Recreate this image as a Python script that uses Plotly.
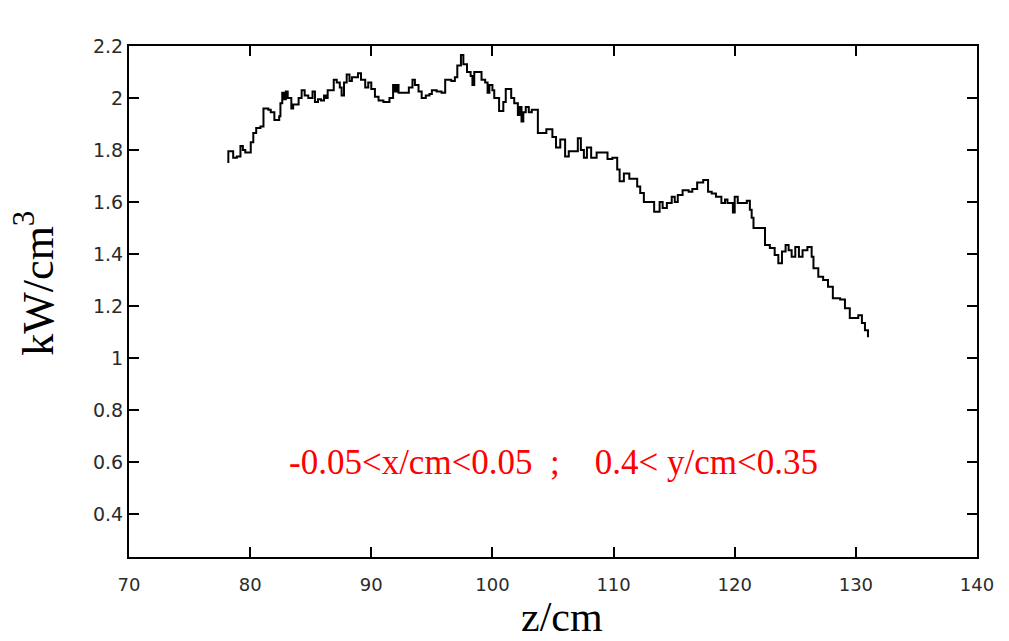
import plotly.graph_objects as go

# Axial position z (cm) where each step of the profile begins
z_cm = [
    78.2, 78.2, 78.6, 78.9, 79.2, 79.4, 79.6, 80.05, 80.26, 80.5, 80.85,
    81.1, 81.5, 81.7, 82.0, 82.4, 82.5, 82.65, 82.8, 82.95, 83.1, 83.4,
    83.55, 83.85, 84.0, 84.25, 84.5, 84.8, 85.15, 85.35, 85.6, 85.85,
    86.1, 86.25, 86.4, 86.9, 87.15, 87.4, 87.55, 87.75, 87.97, 88.2,
    88.4, 88.7, 88.9, 89.15, 89.5, 89.75, 90.0, 90.3, 90.6, 91.0, 91.5,
    91.8, 91.95, 92.1, 92.25, 92.8, 93.1, 93.4, 93.6, 93.9, 94.16, 94.5,
    94.8, 95.0, 95.4, 95.8, 96.1, 96.6, 96.9, 97.1, 97.4, 97.6, 97.9,
    98.2, 98.35, 98.5, 99.1, 99.4, 99.6, 99.75, 100.0, 100.15, 100.55,
    100.9, 101.1, 101.55, 101.8, 102.1, 102.25, 102.4, 102.55, 102.75,
    103.0, 103.25, 103.75, 104.45, 104.95, 105.25, 105.6, 106.0, 106.3,
    107.05, 107.3, 107.55, 107.8, 108.15, 108.6, 109.5, 109.9, 110.3,
    110.5, 110.85, 111.3, 111.95, 112.2, 112.5, 113.35, 113.8, 114.05,
    114.4, 114.8, 115.05, 115.3, 115.7, 116.2, 116.5, 116.9, 117.4,
    117.8, 118.1, 118.45, 118.9, 119.2, 119.4, 119.85, 120.0, 120.25,
    121.0, 121.25, 121.4, 121.55, 122.5, 122.9, 123.3, 123.6, 123.9,
    124.2, 124.45, 124.7, 125.0, 125.3, 125.6, 126.0, 126.35, 126.5,
    126.9, 127.3, 127.7, 128.1, 128.7, 129.1, 129.5, 130.2, 130.5,
    130.75, 131.0,
]

# Power density (kW/cm^3) on each step
power_kw_cm3 = [
    1.75, 1.795, 1.77, 1.775, 1.815, 1.80, 1.79, 1.83, 1.865, 1.885, 1.89,
    1.96, 1.955, 1.945, 1.915, 1.93, 1.98, 2.02, 1.995, 2.025, 2.0, 1.96,
    1.975, 1.975, 2.0, 2.03, 2.01, 2.0, 2.025, 1.985, 1.995, 1.99,
    2.01, 2.0, 2.03, 2.07, 2.06, 2.04, 2.01, 2.06, 2.09, 2.065,
    2.08, 2.08, 2.095, 2.07, 2.04, 2.06, 2.035, 2.005, 1.99, 1.985, 2.0,
    2.05, 2.025, 2.05, 2.02, 2.02, 2.04, 2.07, 2.05, 2.025, 2.0, 2.01,
    2.015, 2.03, 2.025, 2.02, 2.07, 2.065, 2.08, 2.125, 2.165, 2.13, 2.10,
    2.085, 2.05, 2.10, 2.07, 2.06, 2.02, 2.05, 2.03, 2.0, 1.95,
    1.985, 2.035, 2.0, 1.98, 1.935, 1.965, 1.91, 1.945, 1.965,
    1.945, 1.955, 1.865, 1.88, 1.85, 1.81, 1.84, 1.775, 1.795,
    1.845, 1.80, 1.77, 1.81, 1.77, 1.79, 1.765, 1.77, 1.725,
    1.68, 1.71, 1.69, 1.66, 1.635, 1.60, 1.563, 1.60, 1.577,
    1.596, 1.62, 1.60, 1.627, 1.645, 1.64, 1.65, 1.675, 1.685,
    1.64, 1.633, 1.62, 1.596, 1.61, 1.596, 1.56, 1.62, 1.596,
    1.605, 1.57, 1.54, 1.50, 1.435, 1.423, 1.396, 1.365, 1.41,
    1.435, 1.415, 1.39, 1.427, 1.39, 1.415, 1.427, 1.39, 1.345,
    1.313, 1.30, 1.274, 1.23, 1.225, 1.192, 1.154, 1.165, 1.135,
    1.107, 1.08,
]

x_ticks = [70, 80, 90, 100, 110, 120, 130, 140]
y_ticks = [0.4, 0.6, 0.8, 1.0, 1.2, 1.4, 1.6, 1.8, 2.0, 2.2]
y_tick_text = ["0.4", "0.6", "0.8", "1", "1.2", "1.4", "1.6", "1.8", "2", "2.2"]

x_title = "z/cm"
y_title = "kW/cm<sup>3</sup>"
region_label = ("-0.05<x/cm<0.05\u00a0\u00a0;\u00a0\u00a0\u00a0\u00a0"
                "0.4<\u00a0y/cm<0.35")

fig = go.Figure()
fig.add_trace(go.Scatter(
    x=z_cm, y=power_kw_cm3, mode="lines",
    line=dict(color="black", width=2, shape="hv"),
    showlegend=False, hoverinfo="skip",
))

axis_common = dict(
    showgrid=False, zeroline=False, showline=True, linecolor="black",
    linewidth=2, mirror="ticks", ticks="inside", ticklen=10,
    tickwidth=1.5, tickcolor="black",
)

fig.update_xaxes(
    range=[70, 140], tickvals=x_ticks, ticklabelstandoff=10,
    tickfont=dict(family="DejaVu Sans", size=18, color="#2a2a2a"),
    **axis_common,
)
fig.update_yaxes(
    range=[0.235, 2.2], tickvals=y_ticks, ticktext=y_tick_text,
    tickfont=dict(family="DejaVu Sans", size=19, color="#2a2a2a"),
    **axis_common,
)

# Axis titles in a serif face
fig.add_annotation(
    x=0.5106, y=-0.117, xref="paper", yref="paper", text=x_title,
    showarrow=False, xanchor="center", yanchor="middle",
    font=dict(family="Liberation Serif", size=42, color="black"),
)
fig.add_annotation(
    x=-0.1108, y=0.535, xref="paper", yref="paper", text=y_title,
    showarrow=False, xanchor="center", yanchor="middle", textangle=-90,
    font=dict(family="Liberation Serif", size=44, color="black"),
)

fig.add_annotation(
    x=105, y=0.6, xref="x", yref="y", text=region_label, showarrow=False,
    font=dict(family="Liberation Serif", size=35, color="#ff0000"),
    xanchor="center", yanchor="middle",
)

fig.update_layout(
    width=1009, height=641,
    margin=dict(l=129, r=32, t=46, b=84),
    paper_bgcolor="white", plot_bgcolor="white",
)

fig.write_html("out.html")
